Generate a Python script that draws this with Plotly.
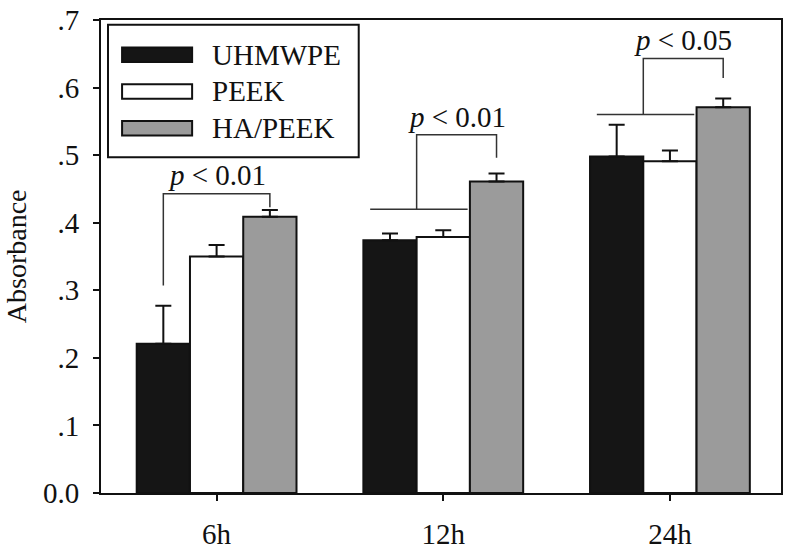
import plotly.graph_objects as go

times = ["6h", "12h", "24h"]
uhmwpe = [0.221, 0.374, 0.498]
uhmwpe_err = [0.056, 0.010, 0.047]
peek = [0.350, 0.379, 0.491]
peek_err = [0.017, 0.010, 0.016]
ha_peek = [0.409, 0.461, 0.571]
ha_peek_err = [0.010, 0.012, 0.013]

yticks = [0, 0.1, 0.2, 0.3, 0.4, 0.5, 0.6, 0.7]
yticktext = ["0.0", ".1", ".2", ".3", ".4", ".5", ".6", ".7"]

# significance brackets: (category index, base y, bracket top y, right leg end y, label)
brackets = [
    (0, 0.307, 0.443, 0.423, "0.01"),
    (1, 0.420, 0.530, 0.496, "0.01"),
    (2, 0.560, 0.643, 0.614, "0.05"),
]

series = [
    ("UHMWPE", uhmwpe, uhmwpe_err, "#151515"),
    ("PEEK", peek, peek_err, "#ffffff"),
    ("HA/PEEK", ha_peek, ha_peek_err, "#9b9b9b"),
]

FONT = '"Liberation Serif", "Times New Roman", Times, serif'
bargap = 0.295
w = (1 - bargap) / 3  # width of one bar in category units

fig = go.Figure()
for name, vals, err, col in series:
    fig.add_trace(go.Bar(
        x=times, y=vals, name=name,
        marker=dict(color=col, line=dict(color="#111", width=2)),
        error_y=dict(type="data", array=err, arrayminus=[0] * len(err), symmetric=False,
                     color="#111", thickness=2, width=8),
        showlegend=False,
    ))

shapes = []
annotations = []
lc = dict(color="#333", width=1.5)
for i, base, top, end, label in brackets:
    right = i + w
    if i == 0:
        left = i - w
    else:
        left = i - w / 2
        shapes.append(dict(type="line", xref="x", yref="y", x0=left - 0.205, x1=left + 0.225,
                           y0=base, y1=base, line=lc))
    xs = [left, left, right, right]
    ys = [base, top, top, end]
    path = "M " + " L ".join(f"{a},{b}" for a, b in zip(xs, ys))
    shapes.append(dict(type="path", xref="x", yref="y", path=path, line=lc))
    annotations.append(dict(x=(left + right) / 2, y=top + 0.027, xref="x", yref="y",
                            text="<i>p</i> < " + label, showarrow=False,
                            font=dict(family=FONT, size=29, color="#111"),
                            xanchor="center", yanchor="middle"))

# custom legend with wide swatches
shapes.append(dict(type="rect", xref="paper", yref="paper", x0=0.0103, x1=0.379, y0=0.710, y1=0.990,
                   line=dict(color="#111", width=2), fillcolor="white"))
leg_y = [0.9265, 0.849, 0.771]
for (name, _, _, col), yy in zip(series, leg_y):
    shapes.append(dict(type="rect", xref="paper", yref="paper", x0=0.031, x1=0.134,
                       y0=yy - 0.0153, y1=yy + 0.0153, fillcolor=col, line=dict(color="#111", width=2)))
    annotations.append(dict(x=0.160, y=yy, xref="paper", yref="paper", text=name, showarrow=False,
                            xanchor="left", yanchor="middle", font=dict(family=FONT, size=29, color="#111")))

annotations.append(dict(x=-0.124, y=0.5, xref="paper", yref="paper", text="Absorbance", textangle=-90,
                        showarrow=False, xanchor="center", yanchor="middle",
                        font=dict(family=FONT, size=28, color="#111")))

fig.update_layout(
    width=787, height=554,
    margin=dict(l=101, r=4, t=12, b=52),
    paper_bgcolor="white", plot_bgcolor="white",
    barmode="group", bargap=bargap, bargroupgap=0,
    font=dict(family=FONT, size=29, color="#111"),
    shapes=shapes, annotations=annotations,
    xaxis=dict(range=[-0.51, 2.49], showline=True, linecolor="#111", linewidth=2, mirror=True,
               ticks="outside", ticklen=6, tickwidth=2, tickcolor="#111", showgrid=False,
               ticklabelstandoff=8, ticklabeloverflow="allow"),
    yaxis=dict(range=[0, 0.7], tickvals=yticks, ticktext=yticktext, showline=True, linecolor="#111",
               linewidth=2, mirror=True, ticks="outside", ticklen=6, tickwidth=2, tickcolor="#111",
               showgrid=False, zeroline=False, ticklabelstandoff=8, ticklabeloverflow="allow"),
)

# drop the page's default body margin so the figure sits at the window's corner
fig.write_html("out.html", config={"displayModeBar": False},
               post_script="document.body.style.margin='0';")
